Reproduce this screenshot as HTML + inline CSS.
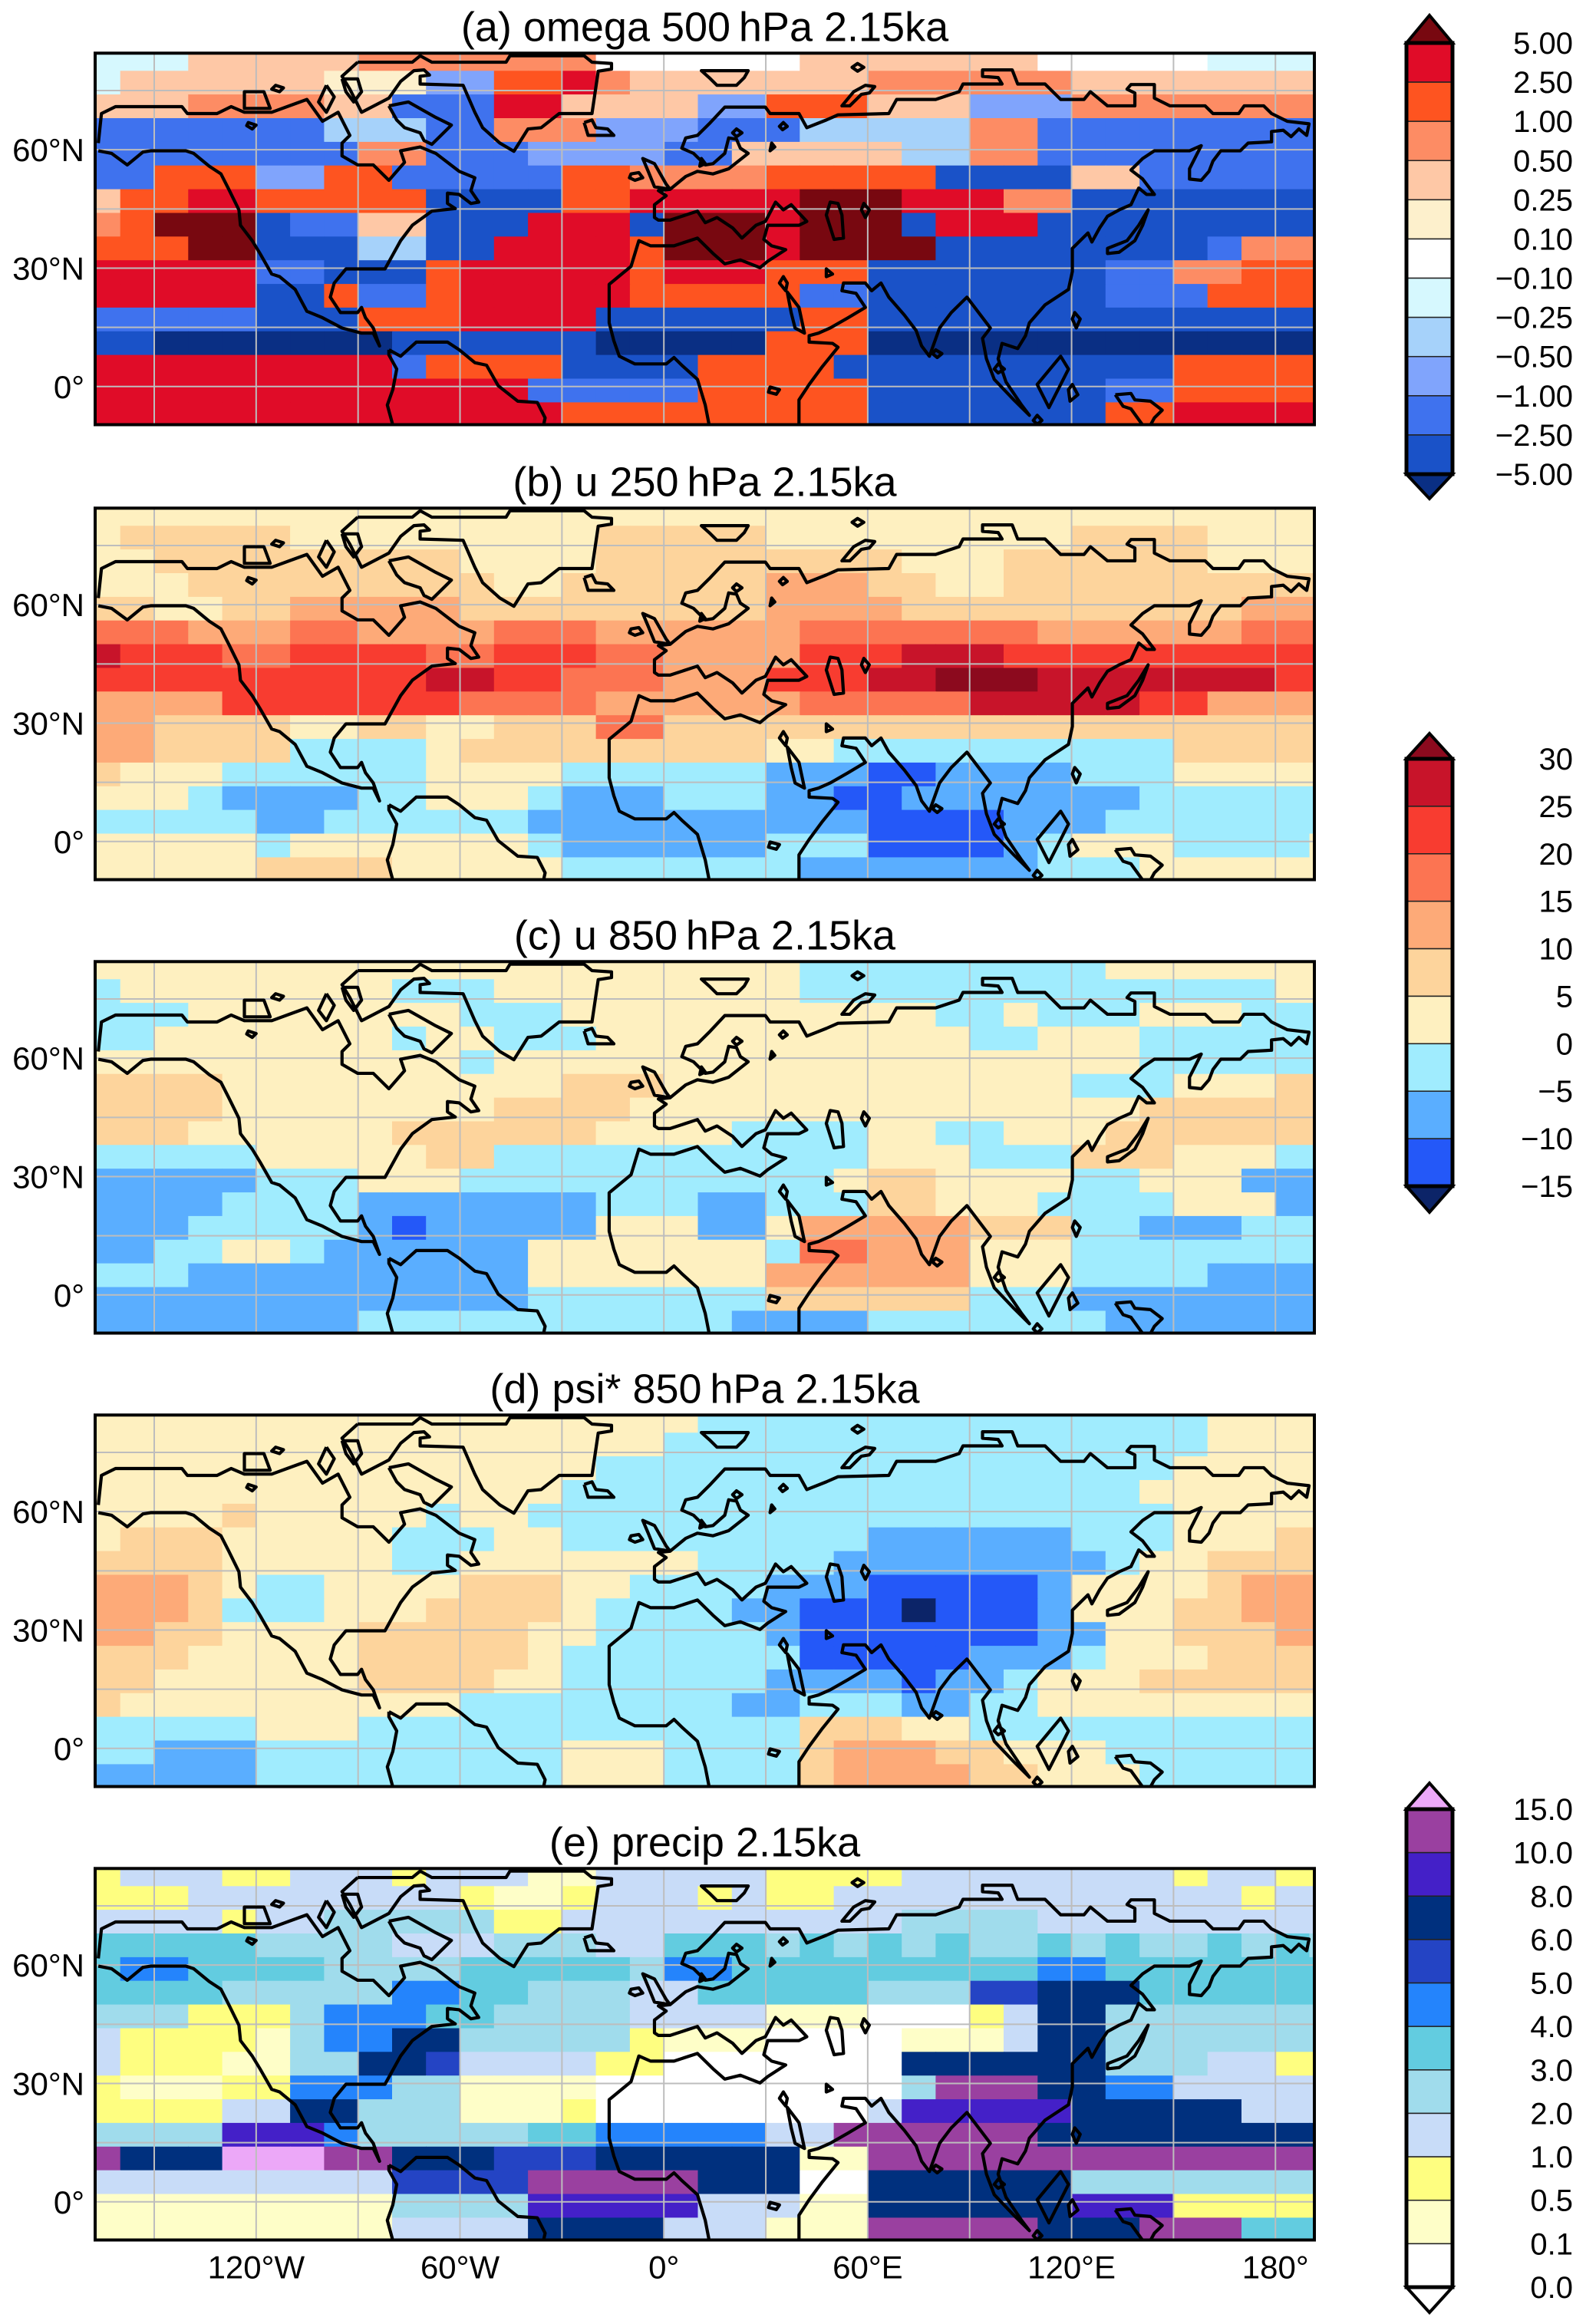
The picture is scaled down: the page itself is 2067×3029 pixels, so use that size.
<!DOCTYPE html>
<html><head><meta charset="utf-8">
<style>
html,body{margin:0;padding:0;background:#fff;}
svg{display:block;}
text{font-family:"Liberation Sans","DejaVu Sans",sans-serif;fill:#000;}
</style></head>
<body>
<svg id="fig" xmlns="http://www.w3.org/2000/svg" width="2067" height="3029" viewBox="0 0 2067 3029">
<defs>
<path id="coast" fill="none" stroke="#000" stroke-width="4.2" vector-effect="non-scaling-stroke" stroke-linejoin="round" d="M8,360 L12,245 L30,218 L115,218 L122,245 L160,245 L178,218 L195,240 L230,240 L275,190 L295,275 L315,240 L330,330 L320,360 L320,410 L340,445 L360,445 L380,505 L400,435 L395,390 L420,375 L440,400 L470,470 L490,495 L485,545 L495,590 L485,595 L470,560 L455,555 L455,595 L465,615 L435,625 L410,680 L395,740 L375,850 L325,850 L310,905 L305,960 L318,1020 L340,1020 L345,1000 L350,1040 L360,1080 L368,1150 L360,1100 L345,1100 L320,1080 L295,1040 L275,1015 L260,930 L240,880 L230,870 L215,790 L205,740 L190,680 L188,620 L175,540 L165,480 L150,450 L130,400 L120,390 L75,390 L65,395 L45,445 L25,400 L8,390
M380,1165 L395,1190 L415,1135 L455,1135 L470,1165 L490,1215 L505,1225 L520,1305 L545,1365 L570,1370 L580,1430 L578,1458 M385,1458 L378,1380 L385,1320 L390,1240 L380,1185 L380,1165
M340,45 L410,45 L420,20 L435,45 L530,45 L535,20 L630,20 L640,45 L665,50 L665,72 L648,80 L640,245 L598,245 L575,300 L558,305 L540,392 L522,360 L500,300 L490,240 L475,135 L420,130 L420,100 L432,95 L425,75 L412,78 L395,120 L380,185 L345,240 L330,150 L320,100 L340,45
M380,215 L405,200 L440,260 L460,290 L445,335 L435,365 L425,350 L420,320 L400,300 L390,270 L380,215
M300,135 L310,180 L300,240 L290,200 L300,135 M320,110 L340,110 L345,160 L335,200 L325,160 L320,110
M195,160 L220,160 L228,225 L195,225 Z M235,135 L245,145 L240,160 L230,150 Z M200,280 L210,290 L205,305 L198,292 Z
M630,280 L640,270 L645,300 L660,305 L668,330 L635,330 L630,280
M790,1458 L785,1380 L775,1280 L755,1225 L745,1195 L735,1220 L695,1220 L675,1190 L668,1130 L662,1060 L662,910 L690,840 L695,790 L700,740 L715,760 L745,760 L775,730 L795,790 L810,830 L830,815 L855,845 L865,820 L888,775 L870,760 L860,735 L865,680 L905,680 L915,665 L895,600 L885,620 L875,590 L862,665 L850,680 L832,730 L820,690 L800,650 L785,670 L775,625 L740,660 L725,660 L720,650 L720,600 L735,565 L725,545 L740,540 L760,490 L775,470 L795,480 L815,460 L840,400 L830,380 L825,345 L815,340 L810,400 L795,440 L785,445 L770,400 L755,380 L760,340 L775,330 L790,285 L810,220 L862,220 L868,245 L905,245 L915,300 L940,270 L955,250 L1020,245 L1030,190 L1080,190 L1110,160 L1115,130 L1165,130 L1160,105 L1140,100 L1140,75 L1178,75 L1185,130 L1220,130 L1240,190 L1270,190 L1278,160 L1300,215 L1335,215 L1335,165 L1325,150 L1330,132 L1360,132 L1360,185 L1380,215 L1425,215 L1435,245 L1468,245 L1475,215 L1500,215 L1510,245 L1530,275 L1558,285 L1555,330 L1545,305 L1535,335 L1525,310 L1510,315 L1510,355 L1480,360 L1470,390 L1445,390 L1435,430 L1430,470 L1420,505 L1405,500 L1405,460 L1420,370 L1405,390 L1360,390 L1345,420 L1330,465 L1345,500 L1360,560 L1350,560 L1340,535 L1330,600 L1315,620 L1300,645 L1290,690 L1280,745 L1275,710 L1255,770 L1255,860 L1250,930 L1220,990 L1200,1060 L1195,1110 L1185,1160 L1165,1140 L1160,1200 L1170,1290 L1190,1380 L1200,1420 L1180,1360 L1155,1280 L1145,1200 L1140,1120 L1150,1080 L1120,960 L1100,1020 L1085,1080 L1072,1190 L1062,1150 L1055,1090 L1040,1030 L1020,960 L1010,905 L998,935 L990,905 L962,905 L960,935 L978,945 L990,1000 L968,1040 L945,1080 L930,1100 L918,1110 L918,1135 L948,1140 L955,1155 L935,1230 L918,1300 L905,1360 L905,1458
M945,590 L955,595 L960,640 L962,730 L950,735 L940,640 Z M988,595 L995,620 L990,650 L985,620 Z
M1352,620 L1345,680 L1335,740 L1315,785 L1300,790 L1300,770 L1325,740 L1340,680 Z
M780,78 L840,78 L835,105 L825,135 L800,135 L790,105 Z M960,215 L975,160 L990,135 L1002,140 L995,165 L985,170 L970,215 Z M980,50 L988,65 L980,80 L973,65 Z
M705,420 L720,440 L735,520 L740,540 L720,530 L712,470 Z M690,480 L700,475 L705,495 L695,505 L688,495 Z M780,420 L785,440 L778,450 Z M825,305 L832,320 L825,335 L820,320 Z M885,280 L890,295 L884,308 L880,295 Z M870,360 L874,375 L868,390 Z
M940,850 L948,870 L940,880 Z M885,880 L890,905 L888,935 L880,905 Z M890,940 L905,1000 L912,1100 L900,1080 L895,1020 Z
M1240,1190 L1250,1240 L1225,1390 L1210,1300 Z M1160,1220 L1168,1240 L1160,1255 L1155,1240 Z M1080,1165 L1088,1180 L1082,1195 L1076,1180 Z M1258,1020 L1265,1045 L1260,1080 L1255,1045 Z M1255,1300 L1262,1340 L1252,1365 L1250,1320 Z
M868,1310 L880,1320 L876,1338 L866,1330 Z
M1310,1340 L1330,1335 L1335,1360 L1355,1365 L1370,1400 L1360,1430 L1355,1458 M1345,1458 L1330,1395 L1320,1385 L1310,1340 M1210,1420 L1216,1440 L1210,1455 L1205,1440 Z"/>
</defs>
<g id="panels"></g>
<g id="cbars"></g>
</svg>
<script>
// ===== Data (class codes per 10deg lon x 6deg lat cell; lon from -170, lat from 86 down) =====
const lonStart = -170, lonStep = 10, latStart = 86, latStep = 6;
const omegaRows = [
"fffhhhhhiiiiiiiwwwwwwhhhhhhhwwwwwffff",
"fhhhhhhgggddjjkihhhhhhhiiiiiihhhhhhhh",
"hhhiiiihhccckkhhhhddjjjhhhdddiiiiiiii",
"ccccccceeecciiidddccceeeeeiiccccccccc",
"ccccccccii cccddddcchhhhheeiiccccccccc".replace(" ",""),
"ccjjjddjjcccccjjiiiijjjjjbbbbhhcccccc",
"hjjkkjjjjjbbbbjjkkkkklllkkkiibbbbbbbb",
"ijlllbcchhbbbkkkblllklllbkkkbbbbbbbbb",
"jjjllbbbeebbkkkkjlllkllllbbbbbbbbciiij".slice(0,37),
"kkkkkccbbbjkkkkkjkkkjjjbbbbbbbcciijjj",
"kkkkkbbjccjkkkkkjjjjjccbbbbbbbcccjjjj",
"cccccbbbjjjkkkkbbbbbbjjbbbbbbbbbbbbbb",
"bbaaaaaaabbbbbbaaaaajjjaaaaaaaaaaaaaa",
"kkkkkkkkkcjjjjbbbbjjjjbbbbbbbbbbjjjjj",
"kkkkkkkkkkkkkcccccjjjjjbbbbbbbccjjjjj",
"kkkkkkkkkkkkkkjjjjjjjjjbbbbbbbjjkkkkk"
];
const u250Rows = [
"4444444444444444444444444444444444444",
"4555554444444445555544444444455554444",
"4455555555544445555555554445555554444",
"4445555555554455555566655445555555555",
"5544556666655555555566665555555555666",
"7776667766667776666667777777666666777",
"9888778888778887766668889998888888888",
"8888888888998877766688899AAA999999988",
"6666888888877776666667777799999886666",
"6655554455445557755555555555555555555",
"6655553333455555555544333333333355555",
"5444333333444433333322211222233344444",
"4443222233444322233322112222222333333",
"3333322333333222222222211112223333333",
"4444434444444322222233311112344433334",
"4444455554444433333332222222333444444"
];
const u850Rows = [
"4444444444444444444443333333334444444",
"3444444443334444444443333333333333344",
"3334444444433344444444444334333444333",
"3344444443443334444444444433444333333",
"4444444444434444444444444444444333333",
"5555444444444455544444444444433344455",
"5555444444445555444444444444444555555",
"5554444445555554444333344334445555555",
"3333344444553333333333344433355544433",
"2222233344433333333333455444433444222",
"2222333322222223332233355444333344422222".slice(0,37),
"2223333321222224442246666655533222333",
"2233443222222444444437766644433333333",
"3332222222222444444466666644433332222",
"2222222222222333333355555533322222222",
"2222222233333333333222233333332222222"
];
const psiRows = [
"4444444444444444443333333333333334444",
"4444444444444444433333333333333334444",
"4444444444444443333333333333333344444",
"4444444444444433333333333333333444444",
"4444544444344333333333333333333344444",
"4555444443334433333333322222233344455",
"5555444443344444443333222222223445555",
"6665433444455544333322211111244445666",
"6665333444555543333221110111244455666",
"6655444455555443333321111111224455566",
"5554444455555433333331111122234445555",
"5544444455554433333322221223444555555",
"5444444444433333333223332233444444444",
"3333344433333333333335554433333333333",
"3322233333333344433335666554443333333",
"2222233333333344433335666655444333333"
];
const precipRows = [
"2333223332333113333322223333333323322",
"2223333333321123332322333333333333233",
"3333233444442233333333334444333333333",
"5555544443334443355545454544545445454",
"5665555444455555466555555555665555555",
"5555444446655444335555544477888555555",
"4442224666554444333311100023884444444",
"3222214668844444211100001113884444444",
"3222114488733332200000008888884443322",
"2111226664411110000000004AAA886633333",
"2222338844411120000000039999988888333",
"4444999644444556666633AAAAAA888888888",
"A888BBBAA8887778888881 1AAAAAAAAAAAAAA".replace(" ",""),
"3333333337777AAAAA88800888888444444444".slice(0,37),
"1111111114444999993331188888899922222",
"1111111113333888833311 1AAAAA888AAA555".replace(" ","")
];
// colour classes
const omegaClasses = {a:"#0a2f84",b:"#1a52c8",c:"#3f72ee",d:"#80a4fc",e:"#a6d2fa",f:"#d6f8fe",w:"#ffffff",g:"#fdf0cc",h:"#fec8a6",i:"#fd8c64",j:"#fe5420",k:"#e00c28",l:"#780810"};
const uClasses = {"0":"#0c2468","1":"#2458f8","2":"#5aaeff","3":"#a0ecfe","4":"#fef0c0","5":"#fdd49c","6":"#fdaa78","7":"#fc7452","8":"#f83c30","9":"#c8142a","A":"#8c0a1e"};
const pClasses = {"0":"#ffffff","1":"#fefec8","2":"#fefe80","3":"#c8dcf8","4":"#a0dcec","5":"#62cce0","6":"#2484fc","7":"#2444c4","8":"#00307e","9":"#4420c8","A":"#9a40a0","B":"#eca8f8"};
// colour bars
const omegaLevels = ["5.00","2.50","1.00","0.50","0.25","0.10","\u22120.10","\u22120.25","\u22120.50","\u22121.00","\u22122.50","\u22125.00"];
const omegaBarOrder = ["l","k","j","i","h","g","w","f","e","d","c","b","a"];
const uLevels = ["30","25","20","15","10","5","0","\u22125","\u221210","\u221215"];
const uBarOrder = ["A","9","8","7","6","5","4","3","2","1","0"];
const pLevels = ["15.0","10.0","8.0","6.0","5.0","4.0","3.0","2.0","1.0","0.5","0.1","0.0"];
const pBarOrder = ["B","A","9","8","7","6","5","4","3","2","1","0","0"];
const panelTitles = ["(a) omega 500\u2009hPa 2.15ka","(b) u 250\u2009hPa 2.15ka","(c) u 850\u2009hPa 2.15ka","(d) psi* 850\u2009hPa 2.15ka","(e) precip 2.15ka"];
const latTicks = [60,30,0];
const latTickLabels = ["60\u00b0N","30\u00b0N","0\u00b0"];
const lonTicks = [-120,-60,0,60,120,180];
const lonTickLabels = ["120\u00b0W","60\u00b0W","0\u00b0","60\u00b0E","120\u00b0E","180\u00b0"];

// ===== layout =====
const NS = "http://www.w3.org/2000/svg";
const panelStarts = [66,659,1250,1841,2432];
const boxL = 124, boxR = 1713;
function xOf(lon){ return 865.2 + 4.428*lon; }
function yOf(top, lat){ return top + 437.8 - 5.144*lat; }
function mk(tag, attrs, parent){ const e=document.createElementNS(NS,tag); for(const k in attrs) e.setAttribute(k,attrs[k]); if(parent) parent.appendChild(e); return e; }

const panelsG = document.getElementById('panels');
const datasets = [[omegaRows,omegaClasses,"omega-500"],[u250Rows,uClasses,"u-250"],[u850Rows,uClasses,"u-850"],[psiRows,uClasses,"psi-850"],[precipRows,pClasses,"precip"]];
datasets.forEach((ds,pi)=>{
  const top = panelStarts[pi];
  const bt = top+3.3, bb = top+487.5;
  const g = mk('g',{},panelsG);
  
  
  const cp = mk('clipPath',{id:'clip'+pi},g);
  mk('rect',{x:boxL,y:bt,width:boxR-boxL,height:bb-bt},cp);
  const cells = mk('g',{'clip-path':'url(#clip'+pi+')'},g);
  
  
  ds[0].forEach((row,k)=>{
    const la0 = latStart - latStep*k, la1 = la0 - latStep;
    for(let j=0;j<row.length;j++){
      const lo0 = lonStart + lonStep*j, lo1 = lo0 + lonStep;
      const col = ds[1][row[j]] || "#fff";
      const x0 = xOf(lo0), y0 = yOf(top,la0);
      const r = mk('rect',{x:x0.toFixed(1),y:y0.toFixed(1),width:(xOf(lo1)-x0+0.6).toFixed(1),height:(yOf(top,la1)-y0+0.6).toFixed(1),fill:col},cells);
      
      
    }
  });
  const grid = mk('g',{'clip-path':'url(#clip'+pi+')',stroke:'#bdbdbd','stroke-width':2},g);
  
  
  for(let lo=-150; lo<=180; lo+=30){ mk('line',{x1:xOf(lo),x2:xOf(lo),y1:bt,y2:bb},grid); }
  for(let la=0; la<=75; la+=15){ mk('line',{x1:boxL,x2:boxR,y1:yOf(top,la),y2:yOf(top,la)},grid); }
  const cg = mk('g',{'clip-path':'url(#clip'+pi+')'},g);
  const u = mk('use',{href:'#coast',transform:'translate(120,'+top+') scale(1.018,0.3347)'},cg);
  
  
  const fr = mk('rect',{x:boxL,y:bt,width:boxR-boxL,height:bb-bt,fill:'none',stroke:'#000','stroke-width':4},g);
  
  
  const t = mk('text',{x:(boxL+boxR)/2,y:bt-16,'text-anchor':'middle','font-size':54},g);
  t.textContent = panelTitles[pi];
  
  
  latTicks.forEach((la,i)=>{
    const tt = mk('text',{x:110,y:yOf(top,la)+15,'text-anchor':'end','font-size':42},g);
    tt.textContent = latTickLabels[i];
    
    
  });
  if(pi===4){
    lonTicks.forEach((lo,i)=>{
      const tt = mk('text',{x:xOf(lo),y:bb+50,'text-anchor':'middle','font-size':42},g);
      tt.textContent = lonTickLabels[i];
      
      
    });
  }
});

const cbG = document.getElementById('cbars');
function colorbar(name, top, bottom, tipTop, tipBot, levels, order, classes){
  const g = mk('g',{},cbG);
  
  
  const x0=1833, x1=1893, n=levels.length-1, h=(bottom-top)/n;
  mk('polygon',{points:`${x0},${top} ${(x0+x1)/2},${tipTop} ${x1},${top}`,fill:classes[order[0]],stroke:'#000','stroke-width':4},g);
  mk('polygon',{points:`${x0},${bottom} ${(x0+x1)/2},${tipBot} ${x1},${bottom}`,fill:classes[order[order.length-1]],stroke:'#000','stroke-width':4},g);
  for(let i=0;i<n;i++){
    const r = mk('rect',{x:x0,y:top+i*h,width:x1-x0,height:h,fill:classes[order[i+1]],stroke:'#222','stroke-width':1.5},g);
    
    
  }
  mk('rect',{x:x0,y:top,width:x1-x0,height:bottom-top,fill:'none',stroke:'#000','stroke-width':5},g);
  levels.forEach((lv,i)=>{
    const t = mk('text',{x:2050,y:top+i*h+14,'text-anchor':'end','font-size':40},g);
    t.textContent = lv;
    
    
  });
}
colorbar('omega-colorbar',56,618,20,650,omegaLevels,omegaBarOrder,omegaClasses);
colorbar('u-colorbar',989,1546,956,1580,uLevels,uBarOrder,uClasses);
colorbar('precip-colorbar',2358,2981,2324,3014,pLevels,pBarOrder,pClasses);
</script>
</body></html>
